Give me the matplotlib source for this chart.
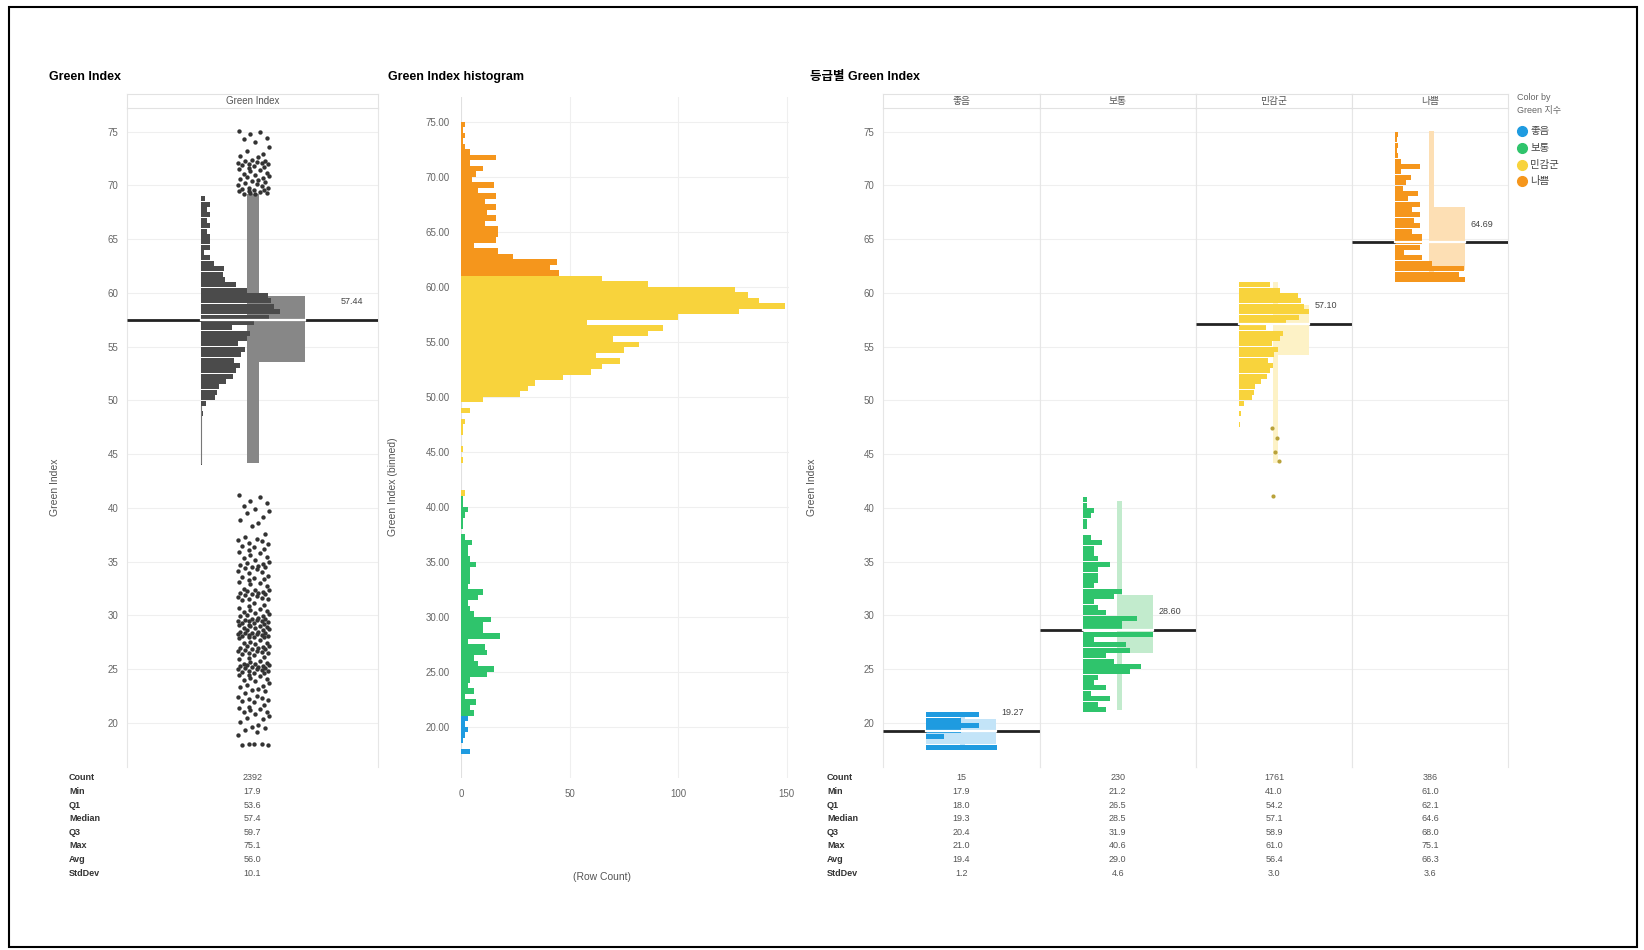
import numpy as np
import matplotlib.pyplot as plt
from matplotlib.patches import Rectangle
from matplotlib.lines import Line2D

plt.rcParams['font.family'] = ['Liberation Sans', 'Noto Sans CJK KR']

# ---------------- data ----------------
grades = ['좋음', '보통', '민감군', '나쁨']
grade_colors = ['#1f9be0', '#2fc46c', '#f8d33c', '#f5961c']
grade_light = ['#c3e4f8', '#c2ebcd', '#fdf2c6', '#fddfb4']

bin_width = 0.5
# row counts per 0.5 bin, first bin lower edge given separately
good_first = 17.5
good_counts = [4, 0, 1, 2, 3, 2, 3]
normal_first = 21.0
normal_counts = [6, 4, 7, 2, 6, 3, 4, 12, 15, 8,
                 6, 12, 11, 3, 18, 10, 10, 14, 6, 4,
                 3, 8, 10, 3, 4, 4, 4, 7, 4, 3,
                 3, 5, 2, 0, 1, 1, 2, 3, 1, 1]
sens_first = 41.0
sens_counts = [2, 0, 0, 0, 0, 0, 1, 0, 1, 0,
               0, 1, 1, 2, 0, 4, 0, 10, 27, 31,
               34, 47, 60, 65, 73, 62, 75, 82, 70, 86,
               93, 58, 100, 128, 149, 137, 132, 126, 86, 65]
bad_first = 61.0
bad_counts = [45, 41, 44, 24, 17, 6, 16, 17, 17, 11,
              16, 12, 16, 11, 16, 8, 15, 5, 7, 10,
              4, 16, 4, 2, 1, 2, 1, 2]

hist_first = [good_first, normal_first, sens_first, bad_first]
hist_counts = [good_counts, normal_counts, sens_counts, bad_counts]

# box plot summary
all_q1, all_q3, all_median = 53.6, 59.7, 57.44
all_whisker = (44.2, 69.2)
grade_q1 = [18.0, 26.5, 54.2, 62.1]
grade_q3 = [20.4, 31.9, 58.9, 68.0]
grade_median = [19.27, 28.60, 57.10, 64.69]
grade_whisker = [(17.9, 21.0), (21.2, 40.6), (44.2, 61.0), (61.0, 75.1)]
grade_bar_lo = [17.5, 21.0, 47.5, 61.0]
sens_outliers = [47.4, 46.5, 45.2, 44.4, 41.1]

# outlier dots of the overall box plot
upper_dots = [75.1, 75.0, 74.8, 74.4, 74.3, 74.0, 73.6, 73.2, 72.9, 72.7, 72.6,
              72.4, 72.3, 72.3, 72.2, 72.1, 72.1, 72.0, 72.0, 71.9, 71.8, 71.7,
              71.6, 71.5, 71.4, 71.3, 71.2, 71.1, 71.0, 70.9, 70.8, 70.7, 70.6,
              70.5, 70.4, 70.3, 70.2, 70.1, 70.0, 69.9, 69.8, 69.8, 69.7, 69.6,
              69.6, 69.5, 69.5, 69.4, 69.3, 69.3, 69.2, 69.2]
lower_dots = [41.2, 41.0, 40.6, 40.5, 40.2, 39.9, 39.7, 39.5, 39.2, 38.9, 38.6,
              38.3, 37.6, 37.3, 37.1, 37.0, 36.9, 36.7, 36.6, 36.5, 36.4, 36.2,
              36.1, 35.9, 35.8, 35.6, 35.4, 35.3, 35.2, 35.0, 34.9, 34.8, 34.7,
              34.6, 34.5, 34.5, 34.4, 34.3, 34.1, 34.0, 33.9, 33.7, 33.6, 33.5,
              33.4, 33.3, 33.1, 33.0, 32.9, 32.7, 32.5, 32.4, 32.4, 32.3, 32.2,
              32.1, 32.1, 32.0, 32.0, 31.9, 31.8, 31.7, 31.6, 31.5, 31.5, 31.4,
              31.2, 31.0, 30.9, 30.7, 30.6, 30.5, 30.4, 30.3, 30.2, 30.1, 30.0,
              29.9, 29.9, 29.8, 29.7, 29.7, 29.6, 29.6, 29.5, 29.5, 29.5, 29.4,
              29.3, 29.3, 29.2, 29.1, 29.1, 29.0, 29.0, 28.9, 28.8, 28.8, 28.7,
              28.6, 28.6, 28.5, 28.5, 28.4, 28.4, 28.4, 28.3, 28.3, 28.2, 28.2,
              28.1, 28.1, 28.0, 28.0, 28.0, 27.9, 27.7, 27.5, 27.4, 27.4, 27.3,
              27.2, 27.2, 27.1, 27.0, 27.0, 26.9, 26.9, 26.8, 26.7, 26.7, 26.6,
              26.5, 26.5, 26.4, 26.3, 26.1, 26.0, 25.9, 25.8, 25.7, 25.6, 25.5,
              25.5, 25.4, 25.4, 25.3, 25.3, 25.2, 25.2, 25.1, 25.1, 25.0, 25.0,
              24.9, 24.8, 24.8, 24.7, 24.6, 24.6, 24.5, 24.5, 24.4, 24.2, 24.1,
              24.0, 23.9, 23.7, 23.5, 23.4, 23.3, 23.2, 23.1, 23.0, 22.8, 22.5,
              22.4, 22.3, 22.2, 22.1, 22.0, 21.9, 21.7, 21.5, 21.4, 21.3, 21.2,
              21.0, 21.0, 20.8, 20.6, 20.5, 20.4, 20.1, 19.8, 19.6, 19.5, 19.3,
              19.2, 18.9, 18.0, 18.0, 17.9, 17.9, 18.0]

stat_names = ['Count', 'Min', 'Q1', 'Median', 'Q3', 'Max', 'Avg', 'StdDev']
all_stats = ['2392', '17.9', '53.6', '57.4', '59.7', '75.1', '56.0', '10.1']
grade_stats = [['15', '17.9', '18.0', '19.3', '20.4', '21.0', '19.4', '1.2'],
               ['230', '21.2', '26.5', '28.5', '31.9', '40.6', '29.0', '4.6'],
               ['1761', '41.0', '54.2', '57.1', '58.9', '61.0', '56.4', '3.0'],
               ['386', '61.0', '62.1', '64.6', '68.0', '75.1', '66.3', '3.6']]

# jitter pattern for the dot strip (layout only)
jitter = [-0.9, 0.4, -0.2, 0.8, -0.6, 0.1, 0.95, -0.4, 0.6, -0.8, 0.3, -0.1,
          0.7, -0.5, 0.2, -0.95, 0.5, -0.3, 0.9, -0.7, 0.0, 0.65, -0.25]

# ---------------- layout ----------------
W, H = 1644, 950
fig = plt.figure(figsize=(W / 100, H / 100), dpi=100)
fig.patch.set_facecolor('white')

GRID = '#efefef'
TICK = '#666666'
yticks = np.arange(20, 80, 5)
BAR_H = 0.47


def px_axes(x0, y0, x1, y1):
    return fig.add_axes([x0 / W, 1 - y1 / H, (x1 - x0) / W, (y1 - y0) / H])


def style_pane(ax, show_ticks):
    ax.set_xlim(0, 100)
    ax.set_ylim(15.9, 77.2)
    ax.set_yticks(yticks)
    for y in yticks:
        ax.axhline(y, color=GRID, lw=0.8, zorder=0)
    ax.set_xticks([])
    ax.tick_params(axis='y', length=0, labelsize=7, labelcolor=TICK, pad=6)
    if not show_ticks:
        ax.set_yticklabels([])
    for s in ['top', 'bottom']:
        ax.spines[s].set_visible(False)
    for s in ['left', 'right']:
        ax.spines[s].set_color('#e6e6e6')
        ax.spines[s].set_linewidth(0.8)


def header(x0, x1, text):
    hx = px_axes(x0, 94, x1, 108)
    hx.set_xticks([])
    hx.set_yticks([])
    for s in hx.spines.values():
        s.set_color('#e2e2e2')
        s.set_linewidth(0.8)
    hx.text(0.5, 0.5, text, ha='center', va='center', fontsize=7, color='#555555',
            transform=hx.transAxes)


def median_line(ax, med, x_a, x_b, label, label_x):
    ax.plot([0, x_a], [med, med], color='#222222', lw=2, zorder=4, solid_capstyle='butt')
    ax.plot([x_b, 100], [med, med], color='#222222', lw=2, zorder=4, solid_capstyle='butt')
    ax.plot([x_a, x_b], [med, med], color='white', lw=1.6, zorder=4)
    ax.text(label_x, med + 1.3, label, ha='center', va='bottom', fontsize=6.5, color='#444444')


def bins_of(first, counts):
    return np.array([first + i * bin_width for i in range(len(counts))])


# ---- panel 1: overall ----
ax1 = px_axes(127, 108, 378, 767)
style_pane(ax1, True)
header(127, 378, 'Green Index')

all_bins = {}
for first, counts in zip(hist_first, hist_counts):
    for b, c in zip(bins_of(first, counts), counts):
        key = round(b, 1)
        all_bins[key] = all_bins.get(key, 0) + c
keys = np.array(sorted(all_bins))
vals = np.array([all_bins[k] for k in keys])
keep = (keys >= all_whisker[0] - 0.3) & (keys < all_whisker[1] - 0.5)
bar_start1, box_l1, box_r1, whisk_r1 = 29.5, 47.8, 70.9, 52.6
scale1 = 31.5 / vals.max()
ax1.barh(keys[keep] + 0.02, vals[keep] * scale1, height=BAR_H, left=bar_start1,
         align='edge', color='#4b4b4b', zorder=2)
ax1.plot([bar_start1, bar_start1], [all_whisker[0], 49.5], color='#777777', lw=0.8, zorder=2)
ax1.add_patch(Rectangle((box_l1, all_q1), box_r1 - box_l1, all_q3 - all_q1,
                        color='#878787', zorder=1, lw=0))
ax1.add_patch(Rectangle((box_l1, all_whisker[0]), whisk_r1 - box_l1,
                        all_whisker[1] - all_whisker[0], color='#878787', zorder=1, lw=0))
median_line(ax1, all_median, bar_start1, box_r1, '%.2f' % all_median, 89.6)

dot_c, dot_h = 50.4, 6.6
for dots in (upper_dots, lower_dots):
    xs = [dot_c + dot_h * jitter[i % len(jitter)] for i in range(len(dots))]
    ax1.scatter(xs, dots, s=10, color='#333333', zorder=3, lw=0)

# ---- panel 2: histogram ----
ax2 = px_axes(461, 97, 789, 778)
for first, counts, col in zip(hist_first, hist_counts, grade_colors):
    ax2.barh(bins_of(first, counts), counts, height=bin_width, align='edge',
             color=col, lw=0, zorder=2)
ax2.set_xlim(0, 151)
ax2.set_ylim(15.36, 77.27)
ax2.set_yticks(yticks)
ax2.set_yticklabels(['%.2f' % t for t in yticks])
ax2.set_xticks([0, 50, 100, 150])
for y in yticks:
    ax2.axhline(y, color=GRID, lw=0.8, zorder=0)
for x in [50, 100, 150]:
    ax2.axvline(x, color=GRID, lw=0.8, zorder=0)
ax2.axvline(0, color='#e0e0e0', lw=0.8, zorder=1)
ax2.tick_params(length=0, labelsize=7, labelcolor=TICK, pad=8)
for s in ax2.spines.values():
    s.set_visible(False)

# ---- panel 3: by grade ----
col_edges = [883, 1039.5, 1196, 1352, 1508]
bar_start3, whisk_l3, whisk_r3, box_r3 = 27.6, 49.4, 52.6, 72.5
for i, g in enumerate(grades):
    ax = px_axes(col_edges[i], 108, col_edges[i + 1], 767)
    style_pane(ax, i == 0)
    header(col_edges[i], col_edges[i + 1], g)
    b = bins_of(hist_first[i], hist_counts[i])
    c = np.array(hist_counts[i])
    sel = b >= grade_bar_lo[i]
    sc = 45.0 / c[sel].max()
    ax.barh(b[sel] + 0.02, c[sel] * sc, height=BAR_H, left=bar_start3, align='edge',
            color=grade_colors[i], lw=0, zorder=2)
    box_l = bar_start3 if i == 0 else whisk_l3
    ax.add_patch(Rectangle((box_l, grade_q1[i]), box_r3 - box_l, grade_q3[i] - grade_q1[i],
                           color=grade_light[i], lw=0, zorder=1))
    wlo, whi = grade_whisker[i]
    ax.add_patch(Rectangle((whisk_l3, wlo), whisk_r3 - whisk_l3, whi - wlo,
                           color=grade_light[i], lw=0, zorder=1))
    median_line(ax, grade_median[i], bar_start3, box_r3, '%.2f' % grade_median[i], 83)
    if g == '민감군':
        xs = [51 + 2.5 * jitter[k] for k in range(len(sens_outliers))]
        ax.scatter(xs, sens_outliers, s=9, color='#b9a23a', zorder=3, lw=0)

# ---- titles and axis labels ----
fig.text(49 / W, 1 - 77 / H, 'Green Index', fontsize=9, fontweight='bold', va='center')
fig.text(388 / W, 1 - 77 / H, 'Green Index histogram', fontsize=9, fontweight='bold', va='center')
fig.text(810 / W, 1 - 77 / H, '등급별 Green Index', fontsize=9, fontweight='bold', va='center')
for x, t in [(55, 'Green Index'), (393, 'Green Index (binned)'), (812, 'Green Index')]:
    fig.text(x / W, 1 - 487 / H, t, rotation=90, fontsize=7.5, color='#555555',
             ha='center', va='center')
fig.text(602 / W, 1 - 877 / H, '(Row Count)', fontsize=7.5, color='#555555',
         ha='center', va='center')

# ---- summary tables ----
row_y = [778 + 13.6 * k for k in range(len(stat_names))]
for k, name in enumerate(stat_names):
    fy = 1 - row_y[k] / H
    fig.text(69 / W, fy, name, fontsize=6.5, fontweight='bold', color='#333333', va='center')
    fig.text(827 / W, fy, name, fontsize=6.5, fontweight='bold', color='#333333', va='center')
    fig.text(252.5 / W, fy, all_stats[k], fontsize=6.5, color='#555555', ha='center', va='center')
    for i in range(len(grades)):
        cx = (col_edges[i] + col_edges[i + 1]) / 2
        fig.text(cx / W, fy, grade_stats[i][k], fontsize=6.5, color='#555555',
                 ha='center', va='center')

# ---- legend (drawn by hand to match spacing) ----
fig.text(1517 / W, 1 - 98 / H, 'Color by', fontsize=6.5, color='#666666', va='center')
fig.text(1517 / W, 1 - 110 / H, 'Green 지수', fontsize=6.5, color='#666666', va='center')
for i, g in enumerate(grades):
    ly = 1 - (131 + 16.8 * i) / H
    fig.add_artist(Line2D([1522 / W], [ly], marker='o', markersize=7, ls='',
                          markerfacecolor=grade_colors[i], markeredgecolor=grade_colors[i],
                          transform=fig.transFigure))
    fig.text(1530 / W, ly, g, fontsize=7.5, color='#444444', va='center')

# outer frame
fig.add_artist(Rectangle((9 / W, 1 - 947 / H), (1637 - 9) / W, (947 - 7) / H,
                         transform=fig.transFigure, fill=False, lw=1.5, ec='black'))

fig.savefig('out.png', dpi=100)
